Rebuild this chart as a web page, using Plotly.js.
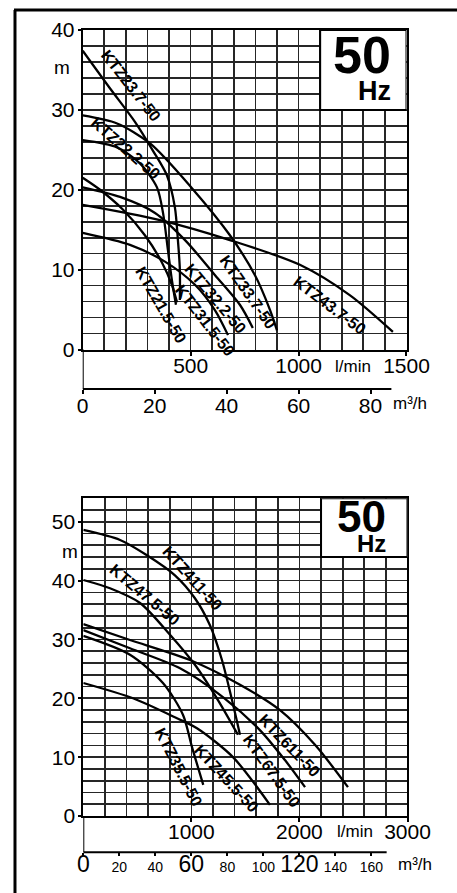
<!DOCTYPE html>
<html><head><meta charset="utf-8">
<script src="https://cdn.plot.ly/plotly-3.0.1.min.js"></script>
<style>html,body{margin:0;padding:0;background:#fff}#chart{width:457px;height:893px}</style>
</head><body><div id="chart"></div>
<script>
// ---------- TOP CHART (flow l/min, head m) ----------
const topFlowLabelVals = [500, 1000, 1500];
const topHeadLabelVals = [0, 10, 20, 30, 40];
const topM3hTicks = [0, 20, 40, 60, 80];

const ktz237_q = [0, 126, 242, 325, 390, 427, 441, 450, 450];
const ktz237_h = [37.4, 32.7, 28.5, 24.9, 21.8, 17.8, 13.7, 10.0, 6.2];
const ktz337_q = [0, 159, 312, 506, 682, 798, 867, 900];
const ktz337_h = [29.3, 28.3, 25.8, 20.2, 14.3, 9.3, 5.0, 2.4];
const ktz222_q = [0, 159, 265, 344, 372, 395, 413, 432];
const ktz222_h = [26.2, 25.3, 23.3, 20.3, 17.1, 12.4, 8.7, 5.6];
const ktz215_q = [0, 80, 187, 288, 367, 413, 437];
const ktz215_h = [21.5, 20.0, 17.5, 14.3, 10.9, 8.1, 5.9];
const ktz322_q = [0, 173, 335, 474, 613, 728, 788];
const ktz322_h = [20.3, 19.1, 17.1, 13.7, 9.3, 5.6, 2.7];
const ktz315_q = [0, 219, 381, 520, 613, 673];
const ktz315_h = [14.6, 13.1, 11.0, 8.1, 4.9, 1.8];
const ktz437_q = [0, 358, 682, 1006, 1237, 1437];
const ktz437_h = [18.1, 16.2, 13.7, 10.6, 6.8, 2.2];

// ---------- BOTTOM CHART ----------
const botFlowLabelVals = [1000, 2000, 3000];
const botHeadLabelVals = [0, 10, 20, 30, 40, 50];
const botM3hTicks = [0, 20, 40, 60, 80, 100, 120, 140, 160];
const botM3hBig = [0, 60, 120];

const ktz411_q = [0, 340, 589, 848, 1033, 1172, 1283, 1376, 1450];
const ktz411_h = [48.6, 46.9, 44.3, 40.9, 37.0, 32.4, 26.5, 19.7, 13.8];
const ktz475_q = [0, 247, 525, 802, 1033, 1246, 1431];
const ktz475_h = [40.1, 38.7, 36.2, 30.8, 25.7, 19.7, 13.8];
const ktz611_q = [0, 432, 987, 1450, 1820, 2144, 2449];
const ktz611_h = [32.6, 29.9, 26.5, 22.3, 18.0, 12.1, 4.9];
const ktz675_q = [0, 432, 895, 1292, 1634, 1866, 2052];
const ktz675_h = [31.6, 28.5, 25.1, 20.2, 14.6, 9.5, 4.9];
const ktz355_q = [0, 432, 737, 922, 1006, 1110];
const ktz355_h = [30.6, 27.4, 22.6, 17.2, 11.7, 5.3];
const ktz455_q = [0, 460, 867, 1052, 1385, 1727];
const ktz455_h = [22.6, 20.0, 16.6, 14.9, 10.0, 1.9];

const FONT = 'Liberation Sans, Arial, sans-serif';

function curve(q, h, xa, ya) {
  return {x: q, y: h, xaxis: xa, yaxis: ya, mode: 'lines',
    line: {color: '#000', width: 2.3, shape: 'spline', smoothing: 0.8},
    hoverinfo: 'skip', showlegend: false};
}
function dummy(xa, ya) {
  return {x: [0], y: [-100], xaxis: xa, yaxis: ya, mode: 'lines', hoverinfo: 'skip', showlegend: false};
}
const traces = [
  curve(ktz237_q, ktz237_h, 'x', 'y'),
  curve(ktz337_q, ktz337_h, 'x', 'y'),
  curve(ktz222_q, ktz222_h, 'x', 'y'),
  curve(ktz215_q, ktz215_h, 'x', 'y'),
  curve(ktz322_q, ktz322_h, 'x', 'y'),
  curve(ktz315_q, ktz315_h, 'x', 'y'),
  curve(ktz437_q, ktz437_h, 'x', 'y'),
  curve(ktz411_q, ktz411_h, 'x2', 'y2'),
  curve(ktz475_q, ktz475_h, 'x2', 'y2'),
  curve(ktz611_q, ktz611_h, 'x2', 'y2'),
  curve(ktz675_q, ktz675_h, 'x2', 'y2'),
  curve(ktz355_q, ktz355_h, 'x2', 'y2'),
  curve(ktz455_q, ktz455_h, 'x2', 'y2'),
  dummy('x3', 'y'), dummy('x4', 'y2'),
  dummy('x5', 'y'), dummy('x6', 'y2'),
  dummy('x', 'y3'), dummy('x2', 'y4')
];

function steps(max, step) { const a = []; for (let v = 0; v <= max + 1e-9; v += step) a.push(v); return a; }
function labelsFor(vals, shown) { return vals.map(v => shown.includes(v) ? String(v) : ''); }

const GRID = '#262626';
const tickFont = {family: FONT, size: 21, color: '#000'};
function frameAxis(extra) {
  return Object.assign({
    showline: true, mirror: true, linecolor: '#000', linewidth: 2,
    zeroline: false, showgrid: true, gridcolor: GRID, gridwidth: 1.7,
    ticks: '', tickfont: tickFont, fixedrange: true, tickmode: 'array'
  }, extra);
}
// tick-mark-only overlay axes
function tickAxis(extra) {
  return Object.assign({
    showgrid: false, zeroline: false, showline: false, showticklabels: false,
    ticks: 'outside', ticklen: 5, tickwidth: 2, tickcolor: '#000', tickmode: 'array', fixedrange: true
  }, extra);
}

const topY = [0.60862, 0.96641];
const botY = [0.08623, 0.44211];
const topM3hPos = 0.5644;
const botM3hPos = 0.04558;

const topXV = steps(1500, 100), topYV = steps(40, 2);
const botXV = steps(3000, 200), botYV = steps(54, 2);

const layout = {
  width: 457, height: 893, autosize: false,
  margin: {l: 0, r: 0, t: 0, b: 0},
  paper_bgcolor: '#fff', plot_bgcolor: '#fff',
  showlegend: false,
  font: {family: FONT, color: '#000'},
  xaxis: frameAxis({domain: [0.181, 0.8895], range: [0, 1500], anchor: 'y',
    tickvals: topXV, ticktext: labelsFor(topXV, topFlowLabelVals), ticklabelstandoff: -4}),
  yaxis: frameAxis({domain: topY, range: [0, 40], anchor: 'x',
    tickvals: topYV, ticktext: labelsFor(topYV, topHeadLabelVals), ticklabelstandoff: 2}),
  xaxis5: tickAxis({overlaying: 'x', anchor: 'y', side: 'bottom', range: [0, 1500], tickvals: topFlowLabelVals}),
  yaxis3: tickAxis({overlaying: 'y', anchor: 'x', side: 'left', range: [0, 40], tickvals: topHeadLabelVals, ticklen: 4}),
  xaxis3: {overlaying: 'x', anchor: 'free', position: topM3hPos, side: 'bottom',
    range: [0, 90], tickmode: 'array', tickvals: topM3hTicks,
    showgrid: false, zeroline: false, showline: false,
    ticks: 'outside', ticklen: 4, tickwidth: 2, tickcolor: '#000', tickfont: tickFont,
    ticklabelstandoff: -6, fixedrange: true},
  xaxis2: frameAxis({domain: [0.18228, 0.89168], range: [0, 3000], anchor: 'y2',
    tickvals: botXV, ticktext: labelsFor(botXV, botFlowLabelVals), ticklabelstandoff: -4}),
  yaxis2: frameAxis({domain: botY, range: [0, 54], anchor: 'x2',
    tickvals: botYV, ticktext: labelsFor(botYV, botHeadLabelVals), ticklabelstandoff: 2}),
  xaxis6: tickAxis({overlaying: 'x2', anchor: 'y2', side: 'bottom', range: [0, 3000], tickvals: botFlowLabelVals}),
  yaxis4: tickAxis({overlaying: 'y2', anchor: 'x2', side: 'left', range: [0, 54], tickvals: botHeadLabelVals, ticklen: 4}),
  xaxis4: {overlaying: 'x2', anchor: 'free', position: botM3hPos, side: 'bottom',
    range: [0, 180], tickmode: 'array', tickvals: botM3hTicks,
    ticktext: botM3hTicks.map(v => botM3hBig.includes(v) ? '<span style="font-size:23px">' + v + '</span>' : String(v)),
    showgrid: false, zeroline: false, showline: false,
    ticks: 'outside', ticklen: 3, tickwidth: 2, tickcolor: '#000',
    tickfont: {family: FONT, size: 14, color: '#000'}, ticklabelstandoff: -1, fixedrange: true},
  shapes: [
    {type: 'line', xref: 'paper', yref: 'paper', x0: 0.0306, x1: 1, y0: 0.9888, y1: 0.9888, line: {color: '#000', width: 3}},
    {type: 'line', xref: 'paper', yref: 'paper', x0: 0.0328, x1: 0.0328, y0: 0, y1: 0.9888, line: {color: '#000', width: 3}},
    {type: 'line', xref: 'x', yref: 'paper', x0: 0, x1: 1430, y0: topM3hPos, y1: topM3hPos, line: {color: '#000', width: 2}},
    {type: 'line', xref: 'x', yref: 'paper', x0: 0, x1: 0, y0: topM3hPos, y1: topY[0], line: {color: '#000', width: 2}},
    {type: 'line', xref: 'x2', yref: 'paper', x0: 0, x1: 2807, y0: botM3hPos, y1: botM3hPos, line: {color: '#000', width: 2}},
    {type: 'line', xref: 'x2', yref: 'paper', x0: 0, x1: 0, y0: botM3hPos, y1: botY[0], line: {color: '#000', width: 2}},
    {type: 'rect', xref: 'x', yref: 'y', x0: 1100, x1: 1500, y0: 30, y1: 40, fillcolor: '#fff', line: {color: '#000', width: 2}},
    {type: 'rect', xref: 'x2', yref: 'y2', x0: 2200, x1: 3000, y0: 44, y1: 54, fillcolor: '#fff', line: {color: '#000', width: 2}}
  ],
  annotations: []
};

function lab(text, x, y, xref, yref, angle) {
  return {text: '<b>' + text + '</b>', x: x, y: y, xref: xref, yref: yref, showarrow: false,
    xanchor: 'center', yanchor: 'middle',
    textangle: angle, font: {family: FONT, size: 16, color: '#000'}};
}
function plain(text, x, y, xref, yref, size, bold) {
  return {text: bold ? '<b>' + text + '</b>' : text, x: x, y: y, xref: xref, yref: yref, showarrow: false,
    xanchor: 'center', yanchor: 'middle',
    font: {family: FONT, size: size, color: '#000'}};
}
layout.annotations.push(
  lab('KTZ23.7-50', 222, 33.0, 'x', 'y', 52),
  lab('KTZ22.2-50', 200, 25.2, 'x', 'y', 41),
  lab('KTZ21.5-50', 360, 5.6, 'x', 'y', 60),
  lab('KTZ31.5-50', 566, 3.6, 'x', 'y', 52),
  lab('KTZ32.2-50', 615, 6.4, 'x', 'y', 50),
  lab('KTZ33.7-50', 762, 7.2, 'x', 'y', 55),
  lab('KTZ43.7-50', 1145, 5.5, 'x', 'y', 37),
  lab('KTZ411-50', 1010, 40.3, 'x2', 'y2', 48),
  lab('KTZ47.5-50', 565, 37.6, 'x2', 'y2', 40),
  lab('KTZ611-50', 1905, 11.9, 'x2', 'y2', 46),
  lab('KTZ67.5-50', 1740, 7.7, 'x2', 'y2', 54),
  lab('KTZ45.5-50', 1325, 6.4, 'x2', 'y2', 47),
  lab('KTZ35.5-50', 885, 8.3, 'x2', 'y2', 63),
  plain('50', 1292, 36.9, 'x', 'y', 52, true),
  plain('Hz', 1350, 32.3, 'x', 'y', 27, true),
  plain('50', 2575, 50.9, 'x2', 'y2', 44, true),
  plain('Hz', 2665, 46.3, 'x2', 'y2', 24, true),
  plain('m', 0.1357, 35.3, 'paper', 'y', 19),
  plain('m', 0.154, 45.0, 'paper', 'y2', 19),
  plain('l/min', 1250, 0.590, 'x', 'paper', 17),
  plain('l/min', 0.777, 0.0694, 'paper', 'paper', 17),
  plain('m³/h', 0.897, 0.5476, 'paper', 'paper', 17),
  plain('m³/h', 0.908, 0.0314, 'paper', 'paper', 17)
);

Plotly.newPlot('chart', traces, layout, {staticPlot: true, displayModeBar: false});
</script></body></html>
